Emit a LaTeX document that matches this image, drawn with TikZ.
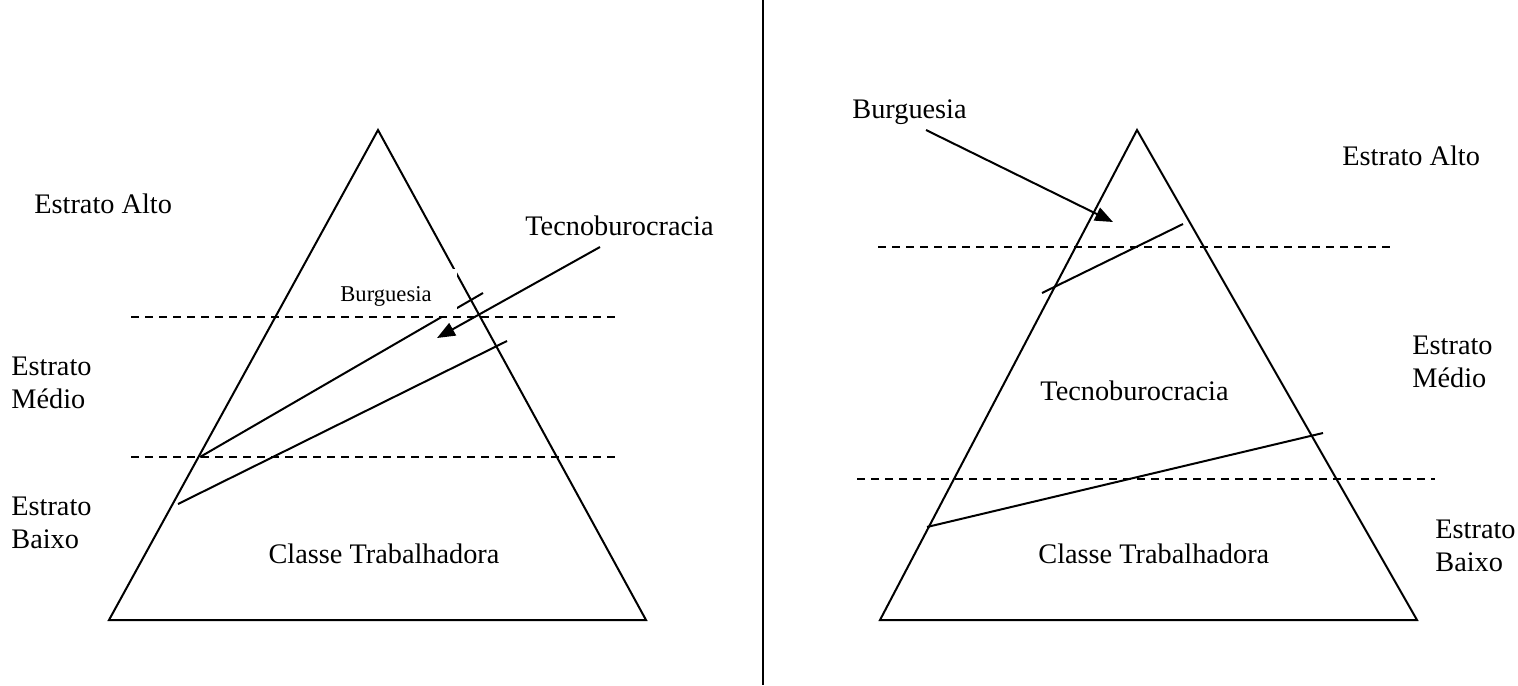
\documentclass[tikz,border=0pt]{standalone}
\usepackage{fontspec}
\setmainfont{Liberation Serif}
\usetikzlibrary{arrows.meta}

\tikzset{
	lbl/.style={inner sep=0pt, anchor=base west, align=left, font=\fontsize{14.15}{16.5}\selectfont},
	seg/.style={line width=1pt},
	stratum/.style={line width=0.9pt, dash pattern=on 4pt off 3pt},
	pointer/.style={line width=1pt, -{Triangle[length=9pt,width=7pt]}}
}

\begin{document}
\begin{tikzpicture}[x=0.5pt,y=-0.5pt]
	\useasboundingbox (0,0) rectangle (1518,685);
	\draw[seg] (763,0) -- (763,685);
	% left pyramid
	\coordinate (lTop) at (378,130);
	\coordinate (lLeft) at (109,620);
	\coordinate (lRight) at (646,620);
	\draw[seg] (lTop) -- (lLeft) -- (lRight) -- cycle;
	\draw[seg] (483,293) -- (200,457);
	\draw[seg] (507,341) -- (178,504);
	\node[fill=white, inner sep=0pt, minimum width=71pt, minimum height=23.5pt, text height=9pt, text depth=0pt, font=\fontsize{11.3}{13}\selectfont] (lBurg) at (386,292.5) {Burguesia};
	\draw[stratum] (131,317) -- (617,317);
	\draw[stratum] (131,457) -- (617,457);
	\node[lbl] (lTecno) at (525,235) {Tecnoburocracia};
	\coordinate (lTecnoS) at (600,247);
	\coordinate (lTecnoT) at (437,338);
	\draw[pointer] (lTecnoS) -- (lTecnoT);
	\node[lbl] (lAlto) at (34,213) {Estrato Alto};
	\node[lbl] (lMedio) at (11,408) {Estrato\\Médio};
	\node[lbl] (lBaixo) at (11,548) {Estrato\\Baixo};
	\node[lbl, anchor=base] (lClasse) at (384,563) {Classe Trabalhadora};
	% right pyramid
	\coordinate (rTop) at (1137,130);
	\coordinate (rLeft) at (880,620);
	\coordinate (rRight) at (1417,620);
	\draw[seg] (rTop) -- (rLeft) -- (rRight) -- cycle;
	\draw[seg] (1183,224) -- (1042,293);
	\draw[seg] (1323,433) -- (927,527);
	\draw[stratum] (878,247) -- (1390,247);
	\draw[stratum] (857,479) -- (1435,479);
	\node[lbl] (rBurg) at (852,118) {Burguesia};
	\coordinate (rBurgS) at (926,130);
	\coordinate (rBurgT) at (1113,222);
	\draw[pointer] (rBurgS) -- (rBurgT);
	\node[lbl] (rAlto) at (1342,165) {Estrato Alto};
	\node[lbl] (rMedio) at (1412,387) {Estrato\\Médio};
	\node[lbl] (rTecno) at (1040,400) {Tecnoburocracia};
	\node[lbl] (rBaixo) at (1435,571) {Estrato\\Baixo};
	\node[lbl] (rClasse) at (1038,563) {Classe Trabalhadora};
\end{tikzpicture}
\end{document}
